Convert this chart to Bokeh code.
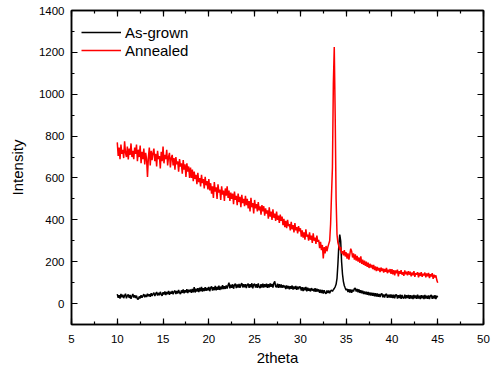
from bokeh.plotting import figure
from bokeh.models import LinearAxis, SingleIntervalTicker, Range1d, CustomJSTickFormatter
from bokeh.embed import file_html
from bokeh.resources import INLINE

annealed = [
    770, 705, 745, 690, 760, 715, 735, 695, 775, 720, 700, 750, 688, 740, 710, 765, 700, 730, 690, 745,
    715, 760, 680, 735, 700, 755, 670, 725, 690, 740, 665, 720, 690, 605, 700, 745, 660, 730, 685, 720,
    740, 680, 715, 655, 730, 690, 705, 645, 725, 680, 750, 670, 710, 690, 735, 660, 700, 720, 650, 695,
    710, 660, 695, 640, 700, 665, 680, 630, 690, 655, 670, 620, 685, 640, 665, 605, 670, 630, 655, 600,
    650, 600, 640, 585, 630, 595, 615, 570, 625, 580, 600, 560, 615, 575, 595, 550, 605, 565, 585, 545,
    595, 540, 575, 525, 560, 505, 580, 535, 555, 500, 570, 530, 545, 495, 560, 520, 540, 490, 550, 515,
    560, 505, 540, 490, 530, 500, 525, 475, 535, 495, 515, 470, 525, 485, 510, 460, 520, 480, 500, 465,
    515, 470, 500, 455, 490, 440, 505, 460, 480, 430, 495, 455, 475, 440, 485, 445, 465, 425, 470, 440,
    465, 420, 455, 430, 445, 405, 460, 415, 440, 400, 450, 410, 430, 395, 440, 400, 420, 385, 425, 395,
    415, 375, 405, 365, 395, 360, 400, 370, 380, 350, 390, 355, 375, 340, 385, 350, 365, 335, 370, 345,
    360, 320, 350, 315, 340, 305, 355, 320, 330, 300, 340, 305, 325, 290, 335, 300, 315, 285, 325, 295,
    305, 265, 295, 255, 280, 215, 270, 240, 275, 250, 270, 285, 300, 380, 520, 650, 1050, 1225, 900, 500,
    330, 290, 275, 255, 270, 240, 250, 230, 255, 225, 245, 215, 240, 210, 235, 262, 250, 220, 240, 210,
    235, 205, 228, 200, 220, 195, 225, 190, 210, 185, 205, 180, 200, 175, 195, 170, 190, 172, 185, 165,
    185, 160, 178, 155, 175, 158, 170, 150, 172, 155, 168, 148, 165, 152, 170, 145, 162, 150, 165, 142,
    165, 140, 160, 135, 158, 145, 162, 130, 155, 142, 160, 138, 150, 132, 158, 140, 152, 135, 155, 138,
    152, 130, 148, 135, 155, 128, 145, 138, 150, 125, 146, 132, 150, 128, 142, 135, 148, 125, 144, 130,
    146, 122, 140, 130, 145, 118, 138, 125, 135, 112, 100,
]

as_grown = [
    45, 28, 40, 24, 46, 30, 42, 26, 38, 47, 25, 37, 44, 27, 41, 23, 36, 46, 29, 40,
    27, 38, 22, 20, 34, 25, 40, 28, 37, 45, 30, 42, 31, 47, 35, 44, 32, 49, 36, 46,
    52, 36, 47, 55, 38, 51, 40, 56, 44, 37, 54, 43, 58, 41, 55, 45, 60, 42, 56, 47,
    60, 44, 57, 62, 46, 60, 48, 65, 52, 45, 63, 51, 67, 49, 64, 53, 69, 50, 66, 55,
    67, 51, 70, 54, 78, 53, 71, 57, 74, 55, 76, 59, 80, 57, 73, 60, 78, 61, 75, 63,
    80, 59, 76, 82, 62, 78, 64, 84, 63, 80, 66, 86, 65, 81, 68, 88, 69, 83, 70, 86,
    72, 87, 100, 73, 90, 75, 92, 71, 89, 95, 74, 91, 76, 94, 75, 90, 97, 77, 92, 78,
    93, 74, 90, 95, 75, 92, 78, 97, 73, 91, 94, 76, 93, 75, 96, 79, 74, 93, 77, 95,
    76, 93, 79, 95, 75, 92, 77, 96, 80, 94, 76, 98, 106, 81, 78, 95, 75, 92, 77, 91,
    75, 88, 77, 86, 69, 87, 72, 84, 68, 83, 71, 86, 67, 82, 70, 84, 66, 81, 68, 80,
    79, 62, 78, 60, 77, 63, 79, 59, 76, 61, 72, 58, 74, 62, 70, 57, 73, 56, 71, 58,
    68, 51, 66, 50, 65, 48, 64, 52, 47, 63, 50, 62, 49, 60, 64, 58, 66, 72, 80, 92,
    120, 190, 280, 330, 300, 200, 140, 105, 85, 74, 64, 70, 55, 68, 53, 67, 52, 66, 58, 72,
    73, 58, 70, 54, 68, 51, 64, 49, 61, 46, 58, 44, 56, 42, 55, 40, 53, 39, 52, 37,
    51, 35, 49, 33, 48, 32, 46, 31, 45, 48, 30, 44, 29, 43, 46, 28, 42, 29, 44, 27,
    43, 26, 42, 25, 41, 43, 24, 40, 26, 42, 23, 41, 27, 25, 43, 24, 40, 26, 41, 23,
    40, 24, 39, 22, 41, 25, 39, 23, 42, 24, 38, 22, 40, 25, 39, 21, 41, 24, 38, 23,
    39, 22, 37, 41, 23, 38, 24, 40, 22, 37, 30,
]

# sampling grid: 10.0 .. 45.0 deg, step 0.1
x_annealed = [round(10 + 0.1 * i, 1) for i in range(len(annealed))]
x_as_grown = [round(10 + 0.1 * i, 1) for i in range(len(as_grown))]

FONT = "Liberation Sans"

p = figure(width=491, height=369, output_backend="svg", toolbar_location=None,
           x_range=Range1d(5, 50), y_range=Range1d(-100, 1400),
           min_border_left=71, min_border_right=8, min_border_top=10, min_border_bottom=45,
           x_axis_label="2theta", y_axis_label="Intensity")

p.line(x_as_grown, as_grown, line_color="black", line_width=1.5, legend_label="As-grown")
p.line(x_annealed, annealed, line_color="red", line_width=1.5, legend_label="Annealed")

p.grid.visible = False
p.outline_line_color = "black"
p.outline_line_width = 1.5
p.background_fill_color = "white"
p.border_fill_color = "white"

p.xaxis.ticker = SingleIntervalTicker(interval=5, num_minor_ticks=2)
p.yaxis.ticker = SingleIntervalTicker(interval=200, num_minor_ticks=2)

def style_axis(ax, labels=True):
    ax.axis_line_color = "black"
    ax.axis_line_width = 1.5
    ax.major_tick_line_color = "black"
    ax.major_tick_line_width = 1.2
    ax.minor_tick_line_color = "black"
    ax.minor_tick_line_width = 1.2
    ax.major_tick_in = 6
    ax.major_tick_out = 0
    ax.minor_tick_in = 3
    ax.minor_tick_out = 0
    if labels:
        ax.major_label_text_font = FONT
        ax.major_label_text_font_size = "11.5px"
        ax.major_label_text_color = "black"
        ax.axis_label_text_font = FONT
        ax.axis_label_text_font_size = "15px"
        ax.axis_label_text_font_style = "normal"
        ax.axis_label_text_color = "black"

style_axis(p.xaxis[0])
style_axis(p.yaxis[0])
p.xaxis.major_label_standoff = 10
p.xaxis.axis_label_standoff = 3
p.yaxis.major_label_standoff = 7
p.yaxis.axis_label_standoff = 10

top = LinearAxis(ticker=SingleIntervalTicker(interval=5, num_minor_ticks=2),
                 formatter=CustomJSTickFormatter(code="return ''"))
right = LinearAxis(ticker=SingleIntervalTicker(interval=200, num_minor_ticks=2),
                   formatter=CustomJSTickFormatter(code="return ''"))
for ax in (top, right):
    style_axis(ax, labels=False)
    ax.major_label_standoff = 0
    ax.axis_label_standoff = 0
p.add_layout(top, "above")
p.add_layout(right, "right")

lg = p.legend[0]
lg.border_line_alpha = 0
lg.background_fill_alpha = 0
lg.label_text_font = FONT
lg.label_text_font_size = "15px"
lg.label_text_color = "black"
lg.glyph_width = 40
lg.glyph_height = 18
lg.label_height = 18
lg.spacing = 0
lg.padding = 0
lg.margin = 0
lg.label_standoff = 4
lg.location = (10, 265)

open("out.html", "w").write(file_html(p, INLINE))
